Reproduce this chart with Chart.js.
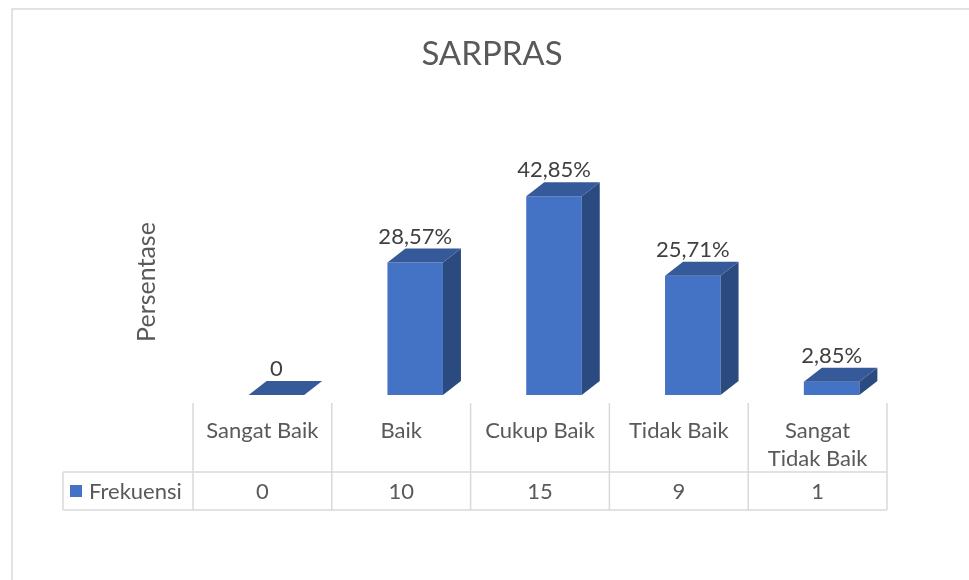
<!DOCTYPE html>
<html lang="id">

<head>
  <meta charset="UTF-8" />
  <title>SARPRAS</title>
  <style>
    * {
      margin: 0;
      padding: 0;
    }

    body {
      background: #ffffff;
    }

    .chartBox {
      width: 969px;
      height: 580px;
    }
  </style>
</head>

<body>
  <div class="chartBox">
    <canvas id="myChart" width="969" height="580"></canvas>
  </div>
  <script src="https://cdn.jsdelivr.net/npm/chart.js@4/dist/chart.umd.min.js"></script>
  <script>
    const categories = ["Sangat Baik", "Baik", "Cukup Baik", "Tidak Baik", ["Sangat", "Tidak Baik"]];
    const percentages = [0, 28.57, 42.85, 25.71, 2.85];
    const percentLabels = ["0", "28,57%", "42,85%", "25,71%", "2,85%"];
    const frequencies = [0, 10, 15, 9, 1];
    const seriesName = "Frekuensi";
    const chartTitle = "SARPRAS";
    const yTitle = "Persentase";

    const FONT = "Lato, 'Open Sans', sans-serif";
    const FRONT = "#4472c4";
    const TOP = "#36599a";
    const SIDE = "#2b4a80";
    const GRID = "#d9d9d9";

    // depth of the fake 3d columns
    const SHIFT = 14;
    const DX = 18;
    const DY = 14;

    const bars3d = {
      id: "bars3d",
      beforeDatasetsDraw(chart) {
        chart.ctx.save();
        chart.ctx.translate(SHIFT, 0);
      },
      afterDatasetsDraw(chart) {
        const ctx = chart.ctx;
        const meta = chart.getDatasetMeta(0);
        meta.data.forEach((bar) => {
          const p = bar.getProps(["x", "y", "base", "width"], true);
          const l = p.x - p.width / 2;
          const r = p.x + p.width / 2;
          // side
          if (p.base - p.y > 0) {
            ctx.fillStyle = SIDE;
            ctx.beginPath();
            ctx.moveTo(r, p.y);
            ctx.lineTo(r + DX, p.y - DY);
            ctx.lineTo(r + DX, p.base - DY);
            ctx.lineTo(r, p.base);
            ctx.closePath();
            ctx.fill();
          }
          // top
          ctx.fillStyle = TOP;
          ctx.beginPath();
          ctx.moveTo(l, p.y);
          ctx.lineTo(l + DX, p.y - DY);
          ctx.lineTo(r + DX, p.y - DY);
          ctx.lineTo(r, p.y);
          ctx.closePath();
          ctx.fill();
        });
        ctx.restore();
      },
      afterDraw(chart) {
        const ctx = chart.ctx;
        const x = chart.scales.x;
        const meta = chart.getDatasetMeta(0);
        const area = chart.chartArea;
        const half = (x.getPixelForValue(1) - x.getPixelForValue(0)) / 2;

        ctx.save();
        // outer frame
        ctx.strokeStyle = GRID;
        ctx.lineWidth = 1.5;
        ctx.strokeRect(12, 9, 1000, 600);

        // title
        ctx.fillStyle = "#595959";
        ctx.textAlign = "center";
        ctx.textBaseline = "middle";
        ctx.font = "33px " + FONT;
        ctx.fillText(chartTitle, 492, 54);

        // y axis title
        ctx.save();
        ctx.translate(147, (area.top + area.bottom) / 2 + 3);
        ctx.rotate(-Math.PI / 2);
        ctx.font = "25px " + FONT;
        ctx.fillText(yTitle, 0, 0);
        ctx.restore();

        // value labels
        ctx.fillStyle = "#404040";
        ctx.font = "22px " + FONT;
        meta.data.forEach((bar, i) => {
          const p = bar.getProps(["x", "y"], true);
          ctx.fillText(percentLabels[i], p.x + SHIFT, p.y - DY - 12);
        });

        // data table
        const headTop = 403, rowTop = 472, rowBottom = 510, keyLeft = 63;
        ctx.strokeStyle = GRID;
        ctx.lineWidth = 1.5;
        ctx.beginPath();
        for (let i = 0; i <= categories.length; i++) {
          const lx = i < categories.length ? x.getPixelForValue(i) - half : x.getPixelForValue(i - 1) + half;
          ctx.moveTo(lx, headTop);
          ctx.lineTo(lx, rowBottom);
        }
        ctx.moveTo(keyLeft, rowTop);
        ctx.lineTo(area.right, rowTop);
        ctx.moveTo(keyLeft, rowBottom);
        ctx.lineTo(area.right, rowBottom);
        ctx.moveTo(keyLeft, rowTop);
        ctx.lineTo(keyLeft, rowBottom);
        ctx.stroke();

        ctx.fillStyle = "#595959";
        ctx.font = "22px " + FONT;
        categories.forEach((c, i) => {
          const cx = x.getPixelForValue(i);
          const lines = Array.isArray(c) ? c : [c];
          lines.forEach((t, j) => ctx.fillText(t, cx, 431 + j * 28));
          ctx.fillText(String(frequencies[i]), cx, 492);
        });

        ctx.fillStyle = FRONT;
        ctx.fillRect(70, 485, 12, 12);
        ctx.fillStyle = "#595959";
        ctx.textAlign = "left";
        ctx.fillText(seriesName, 89, 492);
        ctx.restore();
      }
    };

    const data = {
      labels: categories,
      datasets: [
        {
          label: seriesName,
          data: percentages,
          backgroundColor: FRONT,
          borderWidth: 0,
          barPercentage: 0.4,
          categoryPercentage: 1,
        },
      ],
    };

    const options = {
      responsive: false,
      animation: false,
      layout: {
        padding: { left: 193, right: 82, top: 163, bottom: 185 },
      },
      scales: {
        x: { display: false, offset: true },
        y: { display: false, min: 0, max: 50 },
      },
      plugins: {
        legend: { display: false },
        title: { display: false },
      },
    };

    const ctx = document.getElementById("myChart").getContext("2d");
    const myChart = new Chart(ctx, {
      type: "bar",
      data: data,
      options: options,
      plugins: [bars3d],
    });
  </script>
</body>

</html>
